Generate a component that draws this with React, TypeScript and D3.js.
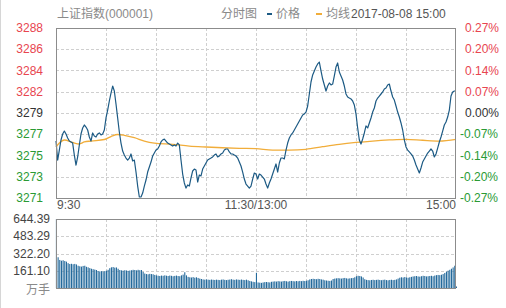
import React from "react";
import * as d3 from "d3";

// ---------- DATA ----------
const title = "上证指数(000001)";
const chartName = "分时图";
const priceLabel = "价格";
const avgLabel = "均线";
const dateLabel = "2017-08-08 15:00";
const prevClose = 3279.46;
const pctRange = 0.27;

const leftTickLabels = ["3288", "3286", "3284", "3282", "3279", "3277", "3275", "3273", "3271"];
const rightTickLabels = ["0.27%", "0.20%", "0.14%", "0.07%", "0.00%", "-0.07%", "-0.14%", "-0.20%", "-0.27%"];
const xTickLabels = ["9:30", "11:30/13:00", "15:00"];
const volTickLabels = ["644.39", "483.29", "322.20", "161.10"];
const volUnit = "万手";
const volMax = 644.39;

// price per minute (241 minutes: 9:30-11:30, 13:00-15:00)
const prices = [
  3276.54, 3274.56, 3275.60, 3276.65, 3277.27, 3277.58, 3277.27, 3276.85, 3276.54, 3276.44,
  3276.33, 3275.08, 3274.04, 3274.88, 3276.13, 3277.27, 3277.90, 3278.21, 3278.00, 3277.69,
  3276.96, 3276.54, 3277.38, 3277.06, 3276.96, 3277.27, 3277.38, 3277.17, 3277.27, 3277.69,
  3278.94, 3279.77, 3280.71, 3281.54, 3282.27, 3281.75, 3280.40, 3278.94, 3277.48, 3276.33,
  3275.50, 3275.08, 3274.77, 3274.56, 3274.77, 3275.19, 3274.46, 3274.56, 3273.31, 3271.85,
  3270.71, 3270.71, 3271.12, 3271.85, 3272.48, 3273.31, 3273.83, 3274.35, 3274.98, 3275.29,
  3275.60, 3275.71, 3276.02, 3276.44, 3276.65, 3276.75, 3276.54, 3276.33, 3276.23, 3276.13,
  3276.02, 3276.13, 3276.02, 3276.33, 3276.13, 3274.56, 3273.10, 3272.17, 3271.64, 3271.96,
  3271.85, 3272.69, 3273.42, 3273.62, 3273.52, 3272.27, 3273.00, 3272.90, 3273.62, 3273.94,
  3274.25, 3274.56, 3274.67, 3274.77, 3274.88, 3275.08, 3275.19, 3274.88, 3274.98, 3275.19,
  3275.29, 3275.60, 3275.71, 3275.71, 3275.40, 3275.19, 3275.19, 3275.08, 3274.98, 3274.77,
  3274.35, 3273.94, 3273.31, 3272.58, 3272.06, 3271.85, 3271.64, 3271.85, 3272.58, 3273.21,
  3273.10, 3272.58, 3273.10, 3273.00, 3272.79, 3272.58, 3272.06, 3271.64, 3272.17, 3272.58,
  3273.10, 3273.62, 3274.15, 3273.31, 3274.25, 3274.77, 3274.77, 3274.67, 3275.60, 3276.33,
  3276.85, 3277.17, 3277.38, 3277.69, 3278.00, 3278.31, 3278.63, 3278.94, 3279.25, 3279.36,
  3279.56, 3280.19, 3281.44, 3282.69, 3283.42, 3283.84, 3284.25, 3284.57, 3284.77, 3283.84,
  3283.00, 3282.38, 3281.75, 3282.27, 3282.59, 3282.38, 3282.48, 3283.32, 3284.25, 3284.67,
  3283.73, 3283.32, 3282.90, 3282.27, 3281.44, 3281.13, 3281.02, 3280.92, 3280.71, 3280.29,
  3279.36, 3277.90, 3276.65, 3276.23, 3276.75, 3277.38, 3278.11, 3277.90, 3278.42, 3278.94,
  3279.56, 3279.98, 3280.71, 3281.02, 3281.23, 3281.44, 3281.65, 3281.96, 3282.07, 3282.38,
  3282.48, 3281.75, 3281.13, 3280.81, 3280.19, 3279.56, 3279.04, 3278.42, 3277.69, 3276.65,
  3275.92, 3275.60, 3275.40, 3275.19, 3274.98, 3274.56, 3274.04, 3273.62, 3273.21, 3273.73,
  3274.35, 3274.67, 3274.98, 3275.29, 3275.50, 3275.71, 3275.50, 3274.88, 3275.19, 3275.81,
  3276.44, 3276.96, 3277.58, 3278.21, 3278.52, 3279.04, 3279.77, 3281.23, 3281.65, 3281.75,
  3281.75,
];

// average price line, sampled at these minute indices
const avgMinutes = [0, 2, 5, 10, 14, 17, 21, 29, 33, 37, 41, 47, 53, 59, 70, 80, 90, 100, 110, 120, 130, 140, 150, 160, 170, 180, 190, 200, 210, 220, 230, 240];
const avgPrices = [
  3275.92, 3276.33, 3276.65, 3276.39, 3276.23, 3276.44, 3276.54, 3276.70, 3277.01, 3277.22,
  3277.14, 3276.89, 3276.54, 3276.33, 3276.20, 3276.02, 3275.92, 3275.84, 3275.78, 3275.74,
  3275.60, 3275.60, 3275.68, 3275.95, 3276.20, 3276.39, 3276.54, 3276.65, 3276.72, 3276.62,
  3276.54, 3276.72,
];

// volume per minute (万手)
const volumes = [
  644.39,
  287, 262, 255, 259, 252, 246, 232, 224, 226, 222,
  225, 220, 208, 203, 200, 206, 208, 198, 193, 186,
  180, 176, 172, 168, 158, 155, 157, 154, 158, 162,
  170, 185, 193, 196, 190, 192, 180, 168, 165, 162,
  166, 164, 160, 163, 166, 170, 168, 165, 170, 166,
  168, 150, 135, 130, 128, 132, 130, 128, 122, 118,
  115, 112, 116, 114, 118, 115, 112, 116, 114, 110,
  113, 116, 112, 110, 118, 125, 147, 118, 104, 100,
  98, 102, 96, 100, 94, 88, 84, 80, 78, 80,
  78, 76, 79, 77, 75, 78, 76, 74, 78, 80,
  76, 74, 77, 79, 82, 78, 76, 80, 78, 76,
  79, 76, 74, 78, 72, 66, 62, 58, 55, 142,
  52, 50, 48, 52, 55, 56, 54, 52, 58, 60,
  62, 60, 64, 62, 60, 64, 66, 63, 60, 64,
  66, 64, 62, 65, 63, 66, 64, 67, 65, 68,
  72, 80, 84, 86, 84, 82, 86, 84, 80, 78,
  72, 70, 68, 66, 70, 84, 88, 90, 92, 90,
  88, 92, 94, 90, 88, 90, 92, 94, 100, 110,
  114, 112, 108, 98, 82, 76, 74, 72, 75, 77,
  74, 76, 78, 75, 73, 76, 78, 74, 72, 75,
  77, 74, 76, 80, 88, 96, 100, 98, 102, 99,
  96, 100, 104, 108, 110, 112, 108, 106, 110, 114,
  112, 108, 110, 112, 114, 110, 116, 120, 122, 120,
  124, 130, 140, 152, 162, 170, 180, 192, 208, 14,
];

const gridMinutes = [30, 60, 90, 120, 150, 180, 210];

// ---------- STYLE ----------
const FONT = "'Liberation Sans', Arial, 'Noto Sans CJK SC', sans-serif";
const RED = "#e8454f";
const GREEN = "#2a9a34";
const NEUTRAL = "#333";
const GRID = "#cfcfcf";
const FRAME = "#8c8c8c";
const PRICE_COLOR = "#1c5a84";
const AVG_COLOR = "#f1ad3a";
const BAR_COLOR = "#246a9c";

export default function App() {
  const W = 506, H = 308;
  const L = 56, R = 456;
  const pTop = 28, pBot = 198;
  const vTop = 219, vBot = 288;

  const x = d3.scaleLinear().domain([0, 240]).range([L, R]);
  const lo = prevClose * (1 - pctRange / 100);
  const hi = prevClose * (1 + pctRange / 100);
  const y = d3.scaleLinear().domain([lo, hi]).range([pBot, pTop]);
  const yv = d3.scaleLinear().domain([0, volMax]).range([vBot, vTop]);

  const tickPrices = leftTickLabels.map((_, k) => prevClose * (1 + (pctRange / 100) * (1 - k / 4)));
  const volTicks = volTickLabels.map((_, k) => volMax * (1 - k / 4));

  const priceLine = d3.line<number>().x((_, i) => x(i)).y((d) => y(d))(prices) || "";
  const avgLine = d3
    .line<number>()
    .x((_, i) => x(avgMinutes[i]))
    .y((d) => y(d))
    .curve(d3.curveMonotoneX)(avgPrices) || "";

  const colorFor = (k: number) => (k < 4 ? RED : k === 4 ? NEUTRAL : GREEN);

  return (
    <svg
      width={W}
      height={H}
      style={{ position: "absolute", left: 0, top: 0, display: "block", background: "#fff" }}
      fontFamily={FONT}
    >
      <line x1={0.5} x2={0.5} y1={0} y2={H} stroke="#d6d6d6" />

      {/* header */}
      <text x={57} y={18} fontSize={12} fill="#8a8a8a">{title}</text>
      <text x={221} y={18} fontSize={12} fill="#8a8a8a">{chartName}</text>
      <line x1={267} x2={272} y1={14} y2={14} stroke={PRICE_COLOR} strokeWidth={2} />
      <text x={276} y={18} fontSize={12} fill="#8a8a8a">{priceLabel}</text>
      <line x1={316} x2={322} y1={14} y2={14} stroke={AVG_COLOR} strokeWidth={2} />
      <text x={326} y={18} fontSize={12} fill="#8a8a8a">{avgLabel}</text>
      <text x={351} y={18} fontSize={12} fill="#555">{dateLabel}</text>

      {/* price grid */}
      {tickPrices.slice(1, 8).map((p, k) => (
        <line key={"h" + k} x1={L} x2={R} y1={Math.round(y(p)) + 0.5} y2={Math.round(y(p)) + 0.5} stroke={GRID} strokeDasharray="3,2" />
      ))}
      {gridMinutes.map((m) => (
        <line key={"v" + m} x1={Math.round(x(m)) + 0.5} x2={Math.round(x(m)) + 0.5} y1={pTop} y2={pBot} stroke={GRID} strokeDasharray="3,2" />
      ))}

      {/* price labels */}
      {tickPrices.map((p, k) => (
        <text key={"l" + k} x={43} y={y(p) + 4} fontSize={12} textAnchor="end" fill={colorFor(k)}>
          {leftTickLabels[k]}
        </text>
      ))}
      {tickPrices.map((p, k) => (
        <text key={"r" + k} x={k > 4 ? 460 : 465} y={y(p) + 4} fontSize={12} fill={colorFor(k)}>
          {rightTickLabels[k]}
        </text>
      ))}

      {/* lines */}
      <path d={avgLine} fill="none" stroke={AVG_COLOR} strokeWidth={1.3} />
      <path d={priceLine} fill="none" stroke={PRICE_COLOR} strokeWidth={1.2} strokeLinejoin="round" />

      <rect x={L + 0.5} y={pTop + 0.5} width={R - L - 1} height={pBot - pTop} fill="none" stroke={FRAME} />

      {/* x labels */}
      <text x={57} y={209} fontSize={12} fill="#555">{xTickLabels[0]}</text>
      <text x={x(120)} y={209} fontSize={12} fill="#555" textAnchor="middle">{xTickLabels[1]}</text>
      <text x={R} y={209} fontSize={12} fill="#555" textAnchor="end">{xTickLabels[2]}</text>

      {/* volume grid */}
      {volTicks.slice(1).map((v, k) => (
        <line key={"vh" + k} x1={L} x2={R} y1={Math.round(yv(v)) + 0.5} y2={Math.round(yv(v)) + 0.5} stroke={GRID} strokeDasharray="3,2" />
      ))}
      {gridMinutes.map((m) => (
        <line key={"vv" + m} x1={Math.round(x(m)) + 0.5} x2={Math.round(x(m)) + 0.5} y1={vTop} y2={vBot} stroke={GRID} strokeDasharray="3,2" />
      ))}

      {/* volume bars */}
      {volumes.map((v, i) => (
        <rect key={"b" + i} x={x(i) - 0.1} y={yv(v)} width={1.1} height={vBot - yv(v)} fill={BAR_COLOR} />
      ))}

      <rect x={L + 0.5} y={vTop + 0.5} width={R - L - 1} height={vBot - vTop} fill="none" stroke={FRAME} />

      {volTicks.map((v, k) => (
        <text key={"vl" + k} x={50} y={yv(v) + 4} fontSize={12} textAnchor="end" fill="#444">
          {volTickLabels[k]}
        </text>
      ))}
      <text x={50} y={294} fontSize={12} textAnchor="end" fill="#8a8a8a">{volUnit}</text>
    </svg>
  );
}
